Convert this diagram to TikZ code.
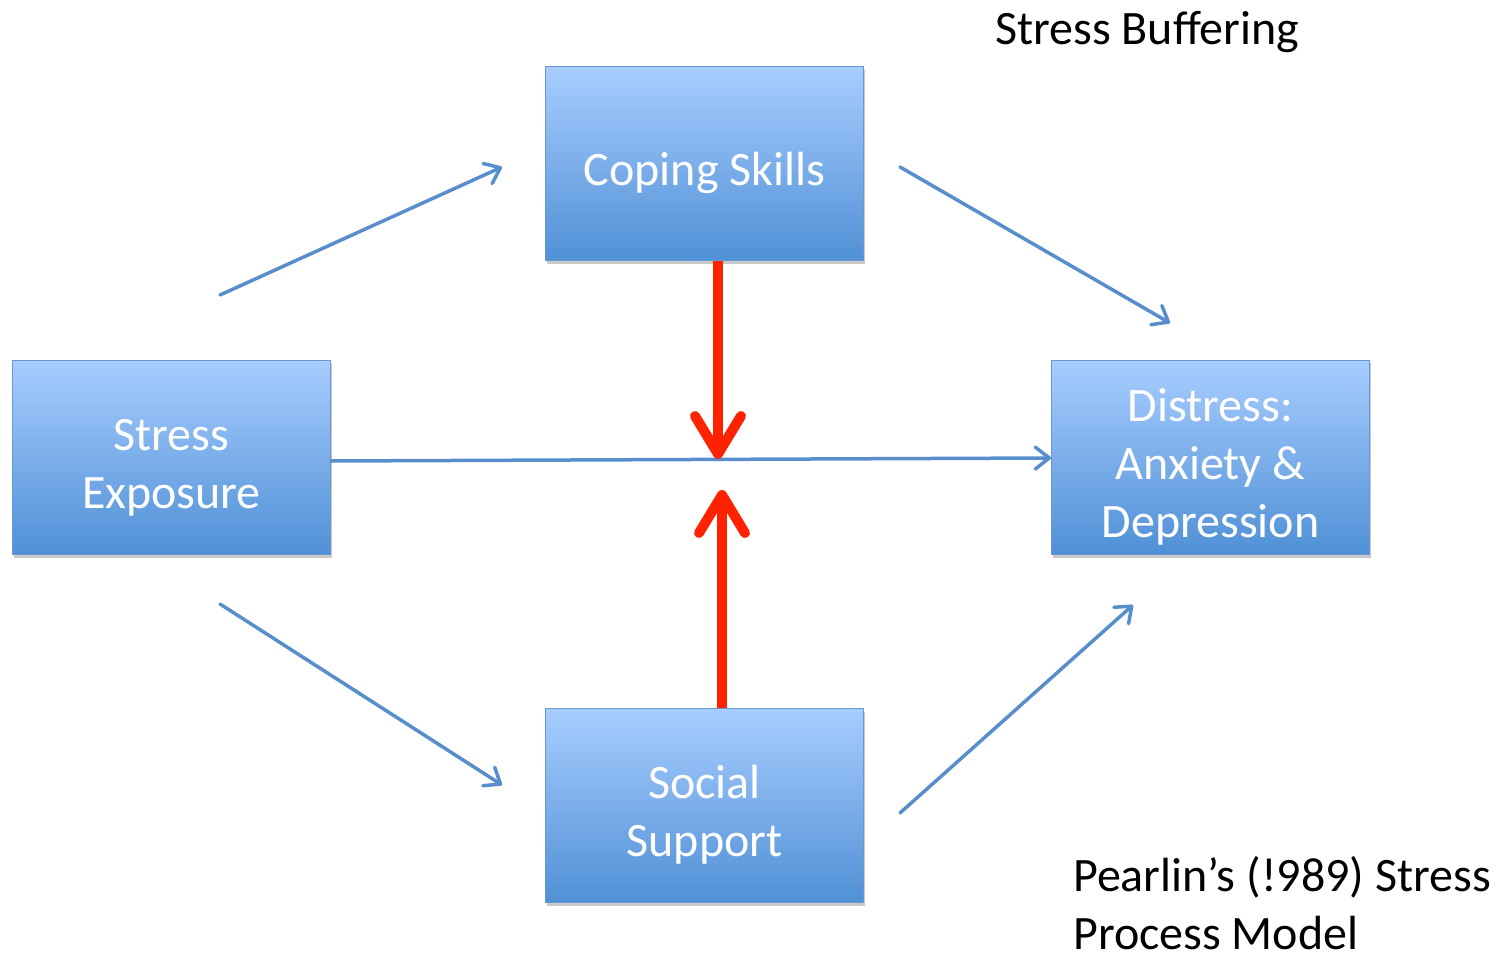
\documentclass[tikz,border=0pt]{standalone}
\usepackage{fontspec}
\setmainfont{Carlito}
\usepackage{tikz}
\usetikzlibrary{arrows.meta,shadows}

\definecolor{boxtop}{RGB}{168,205,255}
\definecolor{boxbottom}{RGB}{80,144,214}
\definecolor{boxline}{RGB}{104,152,208}
\definecolor{linkblue}{RGB}{88,142,204}
\definecolor{modred}{RGB}{255,34,0}
\newcommand{\lowline}{\rule{0pt}{52pt}}

\begin{document}
\begin{tikzpicture}[x=1pt, y=-1pt,
	box/.style = {draw=boxline, line width=1pt, top color=boxtop, bottom color=boxbottom,
		minimum width=318pt, minimum height=194pt, align=center, text=white,
		font=\fontsize{48}{58}\selectfont,
		drop shadow={shadow xshift=1.5pt, shadow yshift=-3pt, opacity=0.3, fill=black!70}},
	link/.style = {draw=linkblue, line width=3.5pt, line cap=round,
		-{Straight Barb[length=14pt, width=22pt, line cap=round, line join=round]}},
	buffer/.style = {draw=modred, line width=10pt,
		-{Straight Barb[length=38pt, width=46pt, line cap=round, line join=round]}},
	note/.style = {font=\fontsize{48}{58}\selectfont, align=left, inner sep=0pt}]
	\useasboundingbox (0,0) rectangle (1502,957);

	\node[box] (expo) at (171.5,457.5) {\lowline Stress\\Exposure};
	\node[box] (coping) at (704.5,164) {\lowline Coping Skills};
	\node[box] (distress) at (1210.5,457.5) {\lowline Distress:\\Anxiety \&\\Depression};
	\node[box] (support) at (704.5,805.5) {\lowline Social\\Support};

	\node[note, anchor=base west] (title) at (995,45) {Stress Buffering};
	\node[note, anchor=base west] (source) at (1073,949) {Pearlin’s (!989) Stress\\Process Model};

	% free ends of the paths
	\coordinate (a1) at (220,295);
	\coordinate (a2) at (502,167);
	\coordinate (b1) at (900,167);
	\coordinate (b2) at (1170,323);
	\coordinate (c1) at (220,604);
	\coordinate (c2) at (502,785);
	\coordinate (d1) at (900,813);
	\coordinate (d2) at (1133,605);
	\coordinate (hit) at (718,459);
	\coordinate (lift) at (722,490);

	\draw[link] (a1) -- (a2);
	\draw[link] (b1) -- (b2);
	\draw[link] (c1) -- (c2);
	\draw[link] (d1) -- (d2);
	\draw[link] (expo.east |- 0,461) -- (distress.west |- 0,458);

	\draw[buffer] (coping.south -| hit) -- (hit);
	\draw[buffer] (support.north -| lift) -- (lift);
\end{tikzpicture}
\end{document}
